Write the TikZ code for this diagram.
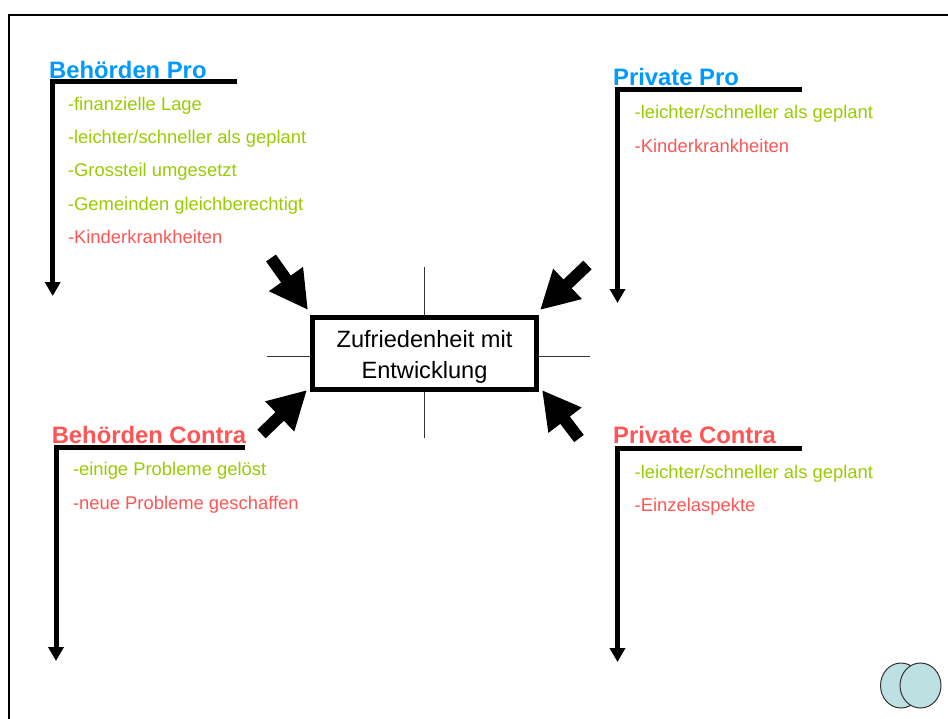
\documentclass[tikz,border=0pt]{standalone}
\usepackage{fontspec}
\setmainfont{Liberation Sans}
\usetikzlibrary{arrows.meta}
\definecolor{tblue}{HTML}{0099FF}
\definecolor{tgreen}{HTML}{99CC00}
\definecolor{tred}{HTML}{FF5555}
\definecolor{cfill}{HTML}{BDE0E3}
\definecolor{cline}{HTML}{333333}
\begin{document}
\begin{tikzpicture}[x=1pt,y=-1pt,
  titletext/.style={anchor=base west, inner sep=0pt, font=\fontsize{23.8}{28}\selectfont\bfseries},
  itemtext/.style={anchor=base west, inner sep=0pt, font=\fontsize{18.4}{22}\selectfont},
  boxtext/.style={anchor=base, inner sep=0pt, font=\fontsize{23.6}{28}\selectfont},
  bar/.style={line width=5pt, line join=miter, -{Triangle[width=15pt,length=14pt]}},
  blockarrow/.style={line width=12pt, -{Triangle[width=39pt,length=38pt]}},
  crossline/.style={line width=0.9pt, black!80},
  mainbox/.style={draw, line width=5pt, fill=white, minimum width=224pt, minimum height=72pt, inner sep=0pt}
]
\useasboundingbox (0,0) rectangle (948,718);
% frame
\draw[line width=2pt] (8.5,730) -- (8.5,15) -- (960,15);

% cross lines
\coordinate (cvt) at (424.5,267);
\coordinate (cvb) at (424.5,438);
\coordinate (chl) at (267,356);
\coordinate (chr) at (590,356);
\draw[crossline] (cvt) -- (cvb);
\draw[crossline] (chl) -- (chr);

% central box
\node[mainbox] (box) at (424.5,353.5) {};
\node[boxtext] (bt1) at (424.5,347) {Zufriedenheit mit};
\node[boxtext] (bt2) at (424.5,378) {Entwicklung};

% block arrows
\coordinate (nwTail) at (271,258);  \coordinate (nwTip) at (308,310);
\coordinate (neTail) at (587.5,265);\coordinate (neTip) at (540,310);
\coordinate (swTail) at (261.5,434);\coordinate (swTip) at (307,390);
\coordinate (seTail) at (579,438.5);\coordinate (seTip) at (542,390);
\draw[blockarrow] (nwTail) -- (nwTip);
\draw[blockarrow] (neTail) -- (neTip);
\draw[blockarrow] (swTail) -- (swTip);
\draw[blockarrow] (seTail) -- (seTip);

% Behoerden Pro
\node[titletext, text=tblue] (bpT) at (49,78) {Behörden Pro};
\coordinate (bpE) at (237.3,81.3);
\coordinate (bpC) at (52.7,81.3);
\coordinate (bpA) at (52.7,296);
\draw[bar] (bpE) -- (bpC) -- (bpA);
\node[itemtext, text=tgreen] (bp1) at (67.8,110) {-finanzielle Lage};
\node[itemtext, text=tgreen] (bp2) at (67.8,143) {-leichter/schneller als geplant};
\node[itemtext, text=tgreen] (bp3) at (67.8,176) {-Grossteil umgesetzt};
\node[itemtext, text=tgreen] (bp4) at (67.8,210) {-Gemeinden gleichberechtigt};
\node[itemtext, text=tred] (bp5) at (67.8,243) {-Kinderkrankheiten};

% Private Pro
\node[titletext, text=tblue] (ppT) at (613,85) {Private Pro};
\coordinate (ppE) at (802,89.3);
\coordinate (ppC) at (617.5,89.3);
\coordinate (ppA) at (617.5,303);
\draw[bar] (ppE) -- (ppC) -- (ppA);
\node[itemtext, text=tgreen] (pp1) at (634.5,118) {-leichter/schneller als geplant};
\node[itemtext, text=tred] (pp2) at (634.5,152) {-Kinderkrankheiten};

% Behoerden Contra
\node[titletext, text=tred] (bcT) at (51.6,443) {Behörden Contra};
\coordinate (bcE) at (245.3,447);
\coordinate (bcC) at (56,447);
\coordinate (bcA) at (56,661);
\draw[bar] (bcE) -- (bcC) -- (bcA);
\node[itemtext, text=tgreen] (bc1) at (72.8,475) {-einige Probleme gelöst};
\node[itemtext, text=tred] (bc2) at (72.8,509) {-neue Probleme geschaffen};

% Private Contra
\node[titletext, text=tred] (pcT) at (613,443) {Private Contra};
\coordinate (pcE) at (802,448);
\coordinate (pcC) at (617.5,448);
\coordinate (pcA) at (617.5,662);
\draw[bar] (pcE) -- (pcC) -- (pcA);
\node[itemtext, text=tgreen] (pc1) at (634.5,478) {-leichter/schneller als geplant};
\node[itemtext, text=tred] (pc2) at (634.5,511) {-Einzelaspekte};

% logo circles
\draw[draw=cline, fill=cfill, line width=1pt] (901,685.5) ellipse [x radius=20.5, y radius=22.5];
\draw[draw=cline, fill=cfill, line width=1pt] (920.5,685.5) ellipse [x radius=20.5, y radius=22.5];
\end{tikzpicture}
\end{document}
